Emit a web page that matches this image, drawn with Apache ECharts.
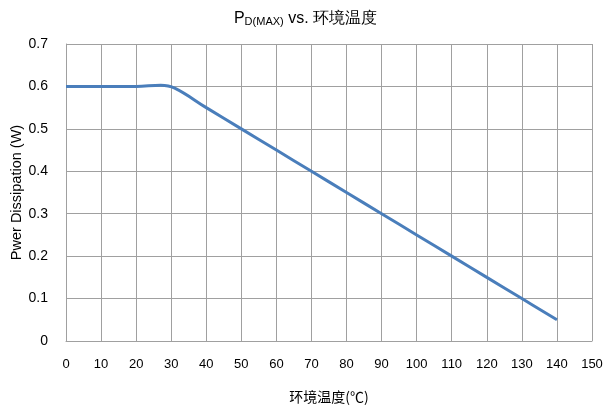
<!DOCTYPE html>
<html><head><meta charset="utf-8">
<script src="https://cdn.jsdelivr.net/npm/echarts@6/dist/echarts.min.js"></script>
<style>html,body{margin:0;padding:0;background:#fff}#c{width:611px;height:412px}</style>
</head><body><div id="c"></div>
<script>
const temps = [0, 10, 20, 27, 31, 40, 50, 60, 70, 80, 90, 100, 110, 120, 130, 140];
const power = [0.6, 0.6, 0.6, 0.603, 0.596, 0.55, 0.5, 0.45, 0.4, 0.35, 0.3, 0.25, 0.2, 0.15, 0.1, 0.05];
const chart = echarts.init(document.getElementById('c'));
const font = '"Liberation Sans", Arial, sans-serif';
chart.setOption({
  animation: false,
  title: {
    text: '{p|P}{s|D(MAX)}{p| vs. 环境温度}',
    left: 'center', top: 6,
    textStyle: { rich: {
      p: { fontSize: 16, fontFamily: font, color: '#000', fontWeight: 'normal' },
      s: { fontSize: 11, fontFamily: font, color: '#000', fontWeight: 'normal', verticalAlign: 'bottom', padding: [5,0,0,0] }
    } }
  },
  grid: { left: 66, right: 19, top: 44, bottom: 71, outerBoundsMode: 'none', containLabel: false },
  xAxis: {
    type: 'value', min: 0, max: 150, interval: 10,
    name: '环境温度(℃)', nameLocation: 'middle', nameGap: 49, nameMoveOverlap: false,
    nameTextStyle: { fontSize: 14, color: '#000', fontFamily: '"Noto Sans CJK SC", sans-serif' },
    axisLine: { lineStyle: { color: '#a0a0a0' } },
    axisTick: { show: false },
    axisLabel: { fontSize: 13, color: '#000', fontFamily: font, margin: 17 },
    splitLine: { show: true, lineStyle: { color: '#a0a0a0', width: 1 } }
  },
  yAxis: {
    type: 'value', min: 0, max: 0.7, interval: 0.1,
    name: 'Pwer Dissipation (W)', nameLocation: 'middle', nameGap: 42, nameMoveOverlap: false,
    nameTextStyle: { fontSize: 14.5, color: '#000', fontFamily: font },
    axisLine: { show: true, lineStyle: { color: '#a0a0a0' } },
    axisTick: { show: false },
    axisLabel: { fontSize: 14, color: '#000', fontFamily: font, margin: 18 },
    splitLine: { show: true, lineStyle: { color: '#a0a0a0', width: 1 } }
  },
  series: [{
    type: 'line', smooth: 0.4, symbol: 'none',
    data: temps.map((t, i) => [t, power[i]]),
    lineStyle: { color: '#4a7ebb', width: 3 }
  }]
});
</script></body></html>
